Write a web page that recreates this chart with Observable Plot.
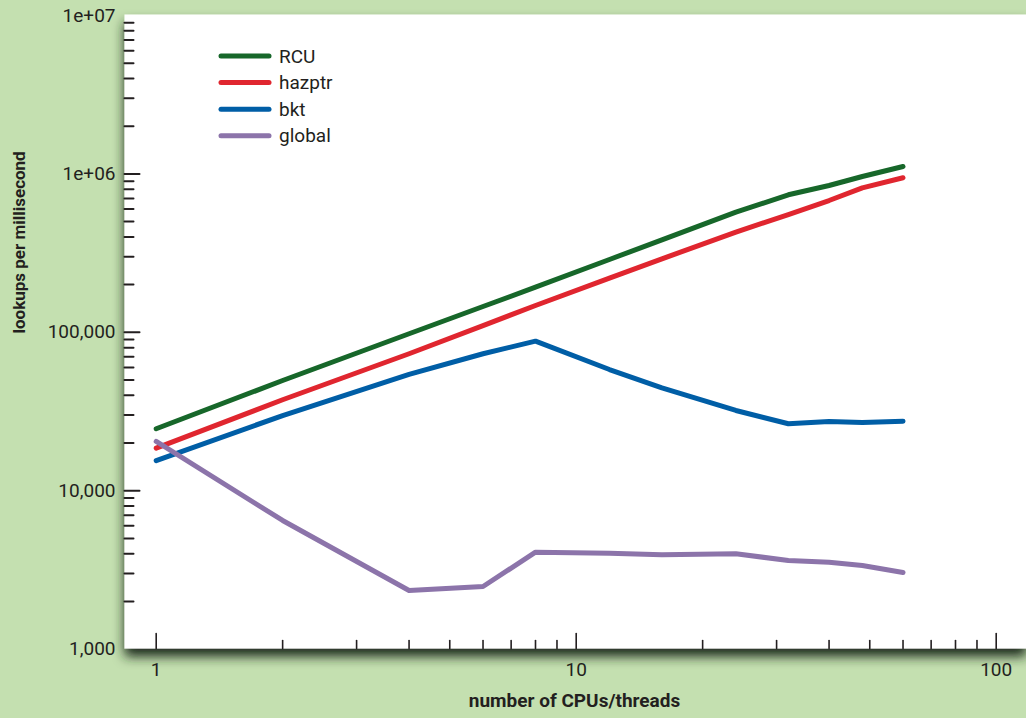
<!DOCTYPE html>
<html>
<head>
<meta charset="utf-8">
<script src="https://cdn.jsdelivr.net/npm/d3@7"></script>
<script src="https://cdn.jsdelivr.net/npm/@observablehq/plot@0.6"></script>
<style>
  html, body { margin: 0; padding: 0; background: #c4e0b0; }
  #chart svg { display: block; }
</style>
</head>
<body>
<div id="chart"></div>
<script>
const seriesNames = ["RCU", "hazptr", "bkt", "global"];
const seriesColors = ["#17672a", "#e0262f", "#005ea6", "#8c74aa"];
const cpus = [1, 2, 4, 6, 8, 12, 16, 24, 32, 40, 48, 60];
const rcu    = [24600, 49600, 97900, 145500, 192600, 288000, 383700, 573000, 738000, 845000, 963000, 1113000];
const hazptr = [18550, 37500, 73200, 110200, 147600, 219600, 291000, 428500, 554000, 679000, 817000, 945000];
const bkt    = [15500, 29800, 54200, 73200, 87900, 58200, 44600, 32100, 26450, 27350, 26960, 27470];
const global = [20450, 6485, 2344, 2485, 4090, 4030, 3940, 3996, 3625, 3536, 3372, 3045];
const xTickLabels = [1, 10, 100];
const yTickLabels = [1e3, 1e4, 1e5, 1e6, 1e7];
const xTitle = "number of CPUs/threads";
const yTitle = "lookups per millisecond";

const valuesBySeries = [rcu, hazptr, bkt, global];
const data = seriesNames.flatMap((s, i) => cpus.map((c, j) => ({series: s, cpus: c, value: valuesBySeries[i][j]})));

const xMinor = [];
for (const d of [1, 10]) for (let k = 2; k <= 9; k++) xMinor.push(d * k);
const yMinor = [];
for (const d of [1e3, 1e4, 1e5, 1e6]) for (let k = 2; k <= 9; k++) yMinor.push(d * k);
const yMajorTicks = [1e4, 1e5, 1e6];

const fmtY = v => v >= 1e6 ? "1e+0" + Math.round(Math.log10(v)) : d3.format(",")(v);
const font = "Roboto, 'Liberation Sans', sans-serif";
const ink = "#231f20";
const tickShape = {draw(context, l) { context.moveTo(0, 0); context.lineTo(0, -l); }};

const plot = Plot.plot({
  width: 1026,
  height: 718,
  marginLeft: 124,
  marginRight: 0,
  marginTop: 14,
  marginBottom: 70,
  style: {background: "#c4e0b0", fontFamily: font},
  x: {type: "log", domain: [1, 100], range: [155.7, 995.7], axis: null},
  y: {type: "log", domain: [1e3, 1e7], range: [648.6, 15], axis: null},
  color: {domain: seriesNames, range: seriesColors},
  marks: [
    Plot.frame({fill: "white", stroke: null}),
    // x ticks (pointing up from bottom)
    Plot.vector(xTickLabels, {x: d => d, frameAnchor: "bottom", length: 15, rotate: 0, anchor: "start", shape: tickShape, stroke: ink, strokeWidth: 1.6}),
    Plot.vector(xMinor, {x: d => d, frameAnchor: "bottom", length: 8, rotate: 0, anchor: "start", shape: tickShape, stroke: ink, strokeWidth: 1.6}),
    // y ticks (pointing right from left)
    Plot.vector(yMajorTicks, {y: d => d, frameAnchor: "left", length: 15, rotate: 90, anchor: "start", shape: tickShape, stroke: ink, strokeWidth: 2}),
    Plot.vector(yMinor, {y: d => d, frameAnchor: "left", length: 9, rotate: 90, anchor: "start", shape: tickShape, stroke: ink, strokeWidth: 2}),
    // tick labels
    Plot.text(xTickLabels, {x: d => d, frameAnchor: "bottom", dy: 27, text: d => String(d), fontSize: 19, fill: ink}),
    Plot.text(yTickLabels, {y: d => d, frameAnchor: "left", dx: -9, textAnchor: "end", text: fmtY, fontSize: 19, fill: ink}),
    // data lines
    Plot.line(data, {x: "cpus", y: "value", stroke: "series", z: "series", strokeWidth: 5, strokeLinecap: "round", strokeLinejoin: "round"}),
    // axis titles
    Plot.text([xTitle], {frameAnchor: "bottom", dx: 574 - (124 + 1026) / 2, dy: 58, text: d => d, fontSize: 19, fontWeight: "bold", fill: ink}),
    Plot.text([yTitle], {frameAnchor: "left", dx: -105, dy: 333 - (14 + 648) / 2, rotate: -90, text: d => d, fontSize: 17, fontWeight: "bold", fill: ink})
  ]
});

// drop shadow on the white panel
const svg = d3.select(plot);
const defs = svg.insert("defs", ":first-child");
const filt = defs.append("filter").attr("id", "panelShadow").attr("x", "-5%").attr("y", "-5%").attr("width", "110%").attr("height", "120%");
filt.append("feDropShadow").attr("dx", 0).attr("dy", 8).attr("stdDeviation", 6).attr("flood-color", "#1a2a1a").attr("flood-opacity", 1);
svg.selectAll("[aria-label=frame]").attr("filter", "url(#panelShadow)");

// legend
const legend = svg.append("g").attr("font-family", font).attr("font-size", 19).attr("fill", ink).attr("text-anchor", "start");
seriesNames.forEach((s, i) => {
  const y = 56 + i * 26.6;
  legend.append("line").attr("x1", 221).attr("x2", 269).attr("y1", y).attr("y2", y)
    .attr("stroke", seriesColors[i]).attr("stroke-width", 5).attr("stroke-linecap", "round");
  legend.append("text").attr("x", 279).attr("y", y).attr("dy", "0.35em").attr("text-anchor", "start").text(s);
});

document.getElementById("chart").appendChild(plot);
</script>
</body>
</html>
